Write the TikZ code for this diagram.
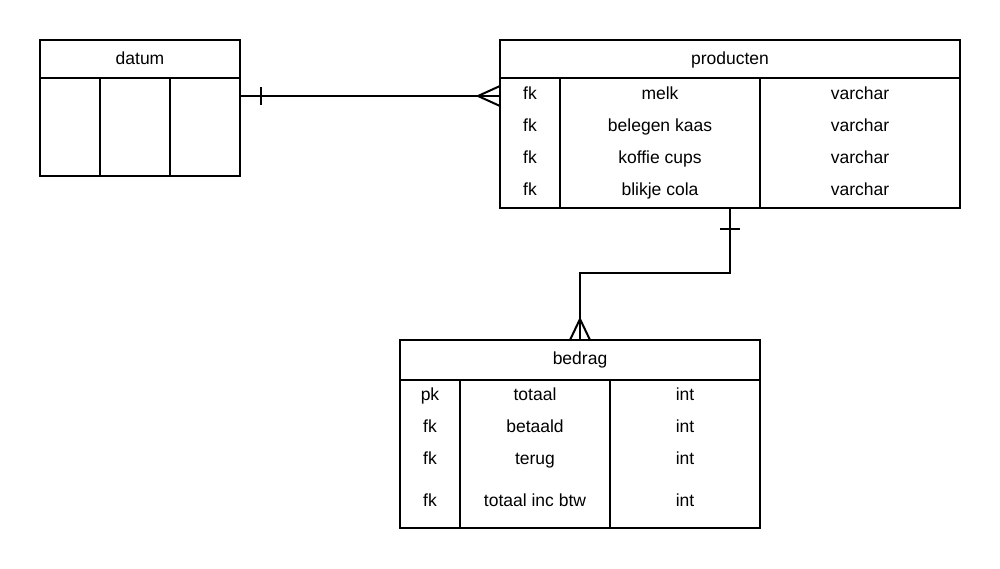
\documentclass[tikz,border=0pt]{standalone}
\usepackage{fontspec}
\setmainfont{Liberation Sans}
\usetikzlibrary{positioning}

\begin{document}
\begin{tikzpicture}
[x=1pt, y=-1pt, line width=2pt, font=\fontsize{17.5}{20}\selectfont,
tbl/.style={draw, anchor=north west, inner sep=0pt, outer sep=0pt},
cell/.style={anchor=base, inner sep=0pt},
rel/.style={line width=2pt}]
\useasboundingbox (0,0) rectangle (1000,569);

% tables
\node[tbl, minimum width=200pt, minimum height=136pt] (datum) at (40,40) {};
\node[tbl, minimum width=460pt, minimum height=168pt] (producten) at (500,40) {};
\node[tbl, minimum width=360pt, minimum height=188pt] (bedrag) at (400,340) {};

\node[cell] (datum-t) at (140,65) {datum};
\node[cell] (producten-t) at (730,65) {producten};
\node[cell] (bedrag-t) at (580,364) {bedrag};

% header lines and columns
\draw (datum.west |- 0,78) -- (datum.east |- 0,78);
\draw (100,78) -- (100,176);
\draw (170,78) -- (170,176);
\draw (producten.west |- 0,78) -- (producten.east |- 0,78);
\draw (560,78) -- (560,208);
\draw (760,78) -- (760,208);
\draw (bedrag.west |- 0,380) -- (bedrag.east |- 0,380);
\draw (460,380) -- (460,528);
\draw (610,380) -- (610,528);

% rows
\foreach \y/\k/\n/\t [count=\i] in {100/fk/melk/varchar, 132/fk/belegen kaas/varchar,
    164/fk/koffie cups/varchar, 196/fk/blikje cola/varchar}{
  \node[cell] (p\i k) at (530,\y) {\k};
  \node[cell] (p\i n) at (660,\y) {\n};
  \node[cell] (p\i t) at (860,\y) {\t};
}
\foreach \y/\k/\n/\t [count=\i] in {400/pk/totaal/int, 432/fk/betaald/int,
    464/fk/terug/int, 506/fk/totaal inc btw/int}{
  \node[cell] (b\i k) at (430,\y) {\k};
  \node[cell] (b\i n) at (535,\y) {\n};
  \node[cell] (b\i t) at (685,\y) {\t};
}

% relations
\coordinate (d1) at ([yshift=12pt]datum.east);
\draw[rel] (d1) -- (d1 -| producten.west);
\draw[rel] ([xshift=21pt]d1) ++(0,-9) -- ++(0,18);
\draw[rel] (d1 -| producten.west) ++(0,-10) -- ++(-22,10) -- ++(22,10);

\draw[rel] (producten.south) -- ++(0,65) -| (bedrag.north);
\draw[rel] ([yshift=-21pt]producten.south) ++(-10,0) -- ++(20,0);
\draw[rel] (bedrag.north) ++(-10,0) -- ++(10,-21) -- ++(10,21);
\end{tikzpicture}
\end{document}
